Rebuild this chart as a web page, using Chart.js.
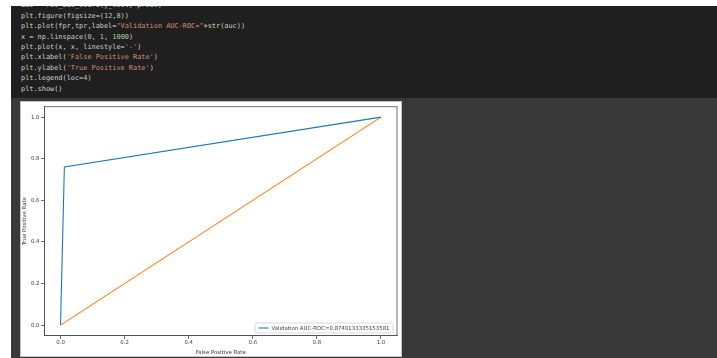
<!DOCTYPE html>
<html>
<head>
<meta charset="utf-8">
<script src="https://cdn.jsdelivr.net/npm/chart.js@4.4.1/dist/chart.umd.min.js"></script>
<style>
  html, body { margin: 0; padding: 0; background: #ffffff; width: 717px; height: 358px; overflow: hidden; }
  #cell { position: absolute; left: 11px; top: 6px; width: 706px; height: 92px; background: #1f1f1f; overflow: hidden; }
  #cell pre { position: absolute; left: 10px; top: -5.6px; margin: 0; font-family: "DejaVu Sans Mono", monospace; font-size: 6.9px; line-height: 10.4px; color: #d0d0d0; }
  .s { color: #ce9178; } .n { color: #b5cea8; } .f { color: #dcdcaa; }
  #out { position: absolute; left: 11px; top: 98px; width: 706px; height: 260px; background: #393939; }
  #frame { position: absolute; left: 20px; top: 101px; width: 382px; height: 256px; background: #c4c4c4; }
  #img { position: absolute; left: 21px; top: 102px; width: 380px; height: 254px; background: #ffffff; }
  canvas { display: block; }
</style>
</head>
<body>
<div id="cell"><pre>auc = roc_auc_score(y_test, preds)
plt.figure(figsize=(<span class="n">12</span>,<span class="n">8</span>))
plt.plot(fpr,tpr,label=<span class="s">"Validation AUC-ROC="</span>+<span class="f">str</span>(auc))
x = np.linspace(<span class="n">0</span>, <span class="n">1</span>, <span class="n">1000</span>)
plt.plot(x, x, linestyle=<span class="s">'-'</span>)
plt.xlabel(<span class="s">'False Positive Rate'</span>)
plt.ylabel(<span class="s">'True Positive Rate'</span>)
plt.legend(loc=<span class="n">4</span>)
plt.show()</pre></div>
<div id="out"></div>
<div id="frame"></div>
<div id="img"><canvas id="c" width="380" height="254"></canvas></div>
<script>
// ROC curve points (false positive rate vs true positive rate)
const fpr = [0, 0.012, 1];
const tpr = [0, 0.7600266670, 1];
// reference diagonal
const diagX = [0, 1];
const diagY = [0, 1];
const rocLabel = 'Validation AUC-ROC=0.8740133335153581';
const tickValues = [0, 0.2, 0.4, 0.6, 0.8, 1.0];

const axisColor = '#4d4d4d';
const textColor = '#3a3a3a';
const tickFont = { family: 'DejaVu Sans', size: 5.4 };

// full box around the plot area, like matplotlib spines
const framePlugin = {
  id: 'frame',
  afterDraw(chart) {
    const { ctx, chartArea: a } = chart;
    ctx.save();
    ctx.strokeStyle = axisColor;
    ctx.lineWidth = 0.8;
    ctx.strokeRect(a.left, a.top, a.right - a.left, a.bottom - a.top);
    ctx.restore();
  }
};

// legend box in the lower right corner of the plot area
const cornerLegend = {
  id: 'cornerLegend',
  afterDraw(chart) {
    const { ctx, chartArea: a } = chart;
    const ds = chart.data.datasets[0];
    ctx.save();
    ctx.font = '5.4px "DejaVu Sans"';
    const tw = ctx.measureText(ds.label).width;
    const h = 10, lineW = 10, gap = 3, pad = 3.5;
    const w = pad + lineW + gap + tw + pad;
    const x = a.right - 4 - w, y = a.bottom - 2.5 - h;
    ctx.fillStyle = 'rgba(255,255,255,0.85)';
    ctx.strokeStyle = '#d0d0d0';
    ctx.lineWidth = 0.8;
    ctx.beginPath();
    ctx.roundRect(x, y, w, h, 1.5);
    ctx.fill();
    ctx.stroke();
    ctx.strokeStyle = ds.borderColor;
    ctx.lineWidth = 1.1;
    ctx.beginPath();
    ctx.moveTo(x + pad, y + h / 2);
    ctx.lineTo(x + pad + lineW, y + h / 2);
    ctx.stroke();
    ctx.fillStyle = textColor;
    ctx.textBaseline = 'middle';
    ctx.fillText(ds.label, x + pad + lineW + gap, y + h / 2 + 0.3);
    ctx.restore();
  }
};

const toPoints = (xs, ys) => xs.map((v, i) => ({ x: v, y: ys[i] }));
const setTicks = scale => { scale.ticks = tickValues.map(v => ({ value: v })); };

new Chart(document.getElementById('c'), {
  type: 'scatter',
  data: {
    datasets: [
      { label: rocLabel, data: toPoints(fpr, tpr), showLine: true, borderColor: '#1f77b4',
        borderWidth: 1.1, pointRadius: 0, fill: false, tension: 0 },
      { label: '', data: toPoints(diagX, diagY), showLine: true, borderColor: '#ff7f0e',
        borderWidth: 1.1, pointRadius: 0, fill: false, tension: 0 }
    ]
  },
  options: {
    responsive: false,
    animation: false,
    devicePixelRatio: 1,
    layout: { padding: { top: 4, right: 4, left: 0, bottom: 0 } },
    plugins: { legend: { display: false }, tooltip: { enabled: false } },
    scales: {
      x: {
        type: 'linear', min: -0.05, max: 1.05,
        afterBuildTicks: setTicks,
        afterFit: s => { s.height = 20.5; },
        grid: { drawOnChartArea: false, tickLength: 3.5, tickColor: axisColor, lineWidth: 0.8 },
        border: { color: axisColor, width: 0.8 },
        ticks: { color: textColor, font: tickFont, padding: 0.5, maxRotation: 0,
                 callback: v => v.toFixed(1) },
        title: { display: true, text: 'False Positive Rate', color: textColor, font: tickFont,
                 padding: { top: 1.5, bottom: 0 } }
      },
      y: {
        type: 'linear', min: -0.05, max: 1.05,
        afterBuildTicks: setTicks,
        afterFit: s => { s.width = 23.5; },
        grid: { drawOnChartArea: false, tickLength: 3.5, tickColor: axisColor, lineWidth: 0.8 },
        border: { color: axisColor, width: 0.8 },
        ticks: { color: textColor, font: tickFont, padding: 1.5,
                 callback: v => v.toFixed(1) },
        title: { display: true, text: 'True Positive Rate', color: textColor, font: tickFont,
                 padding: { top: 0.5, bottom: 1 } }
      }
    }
  },
  plugins: [framePlugin, cornerLegend]
});
</script>
</body>
</html>
